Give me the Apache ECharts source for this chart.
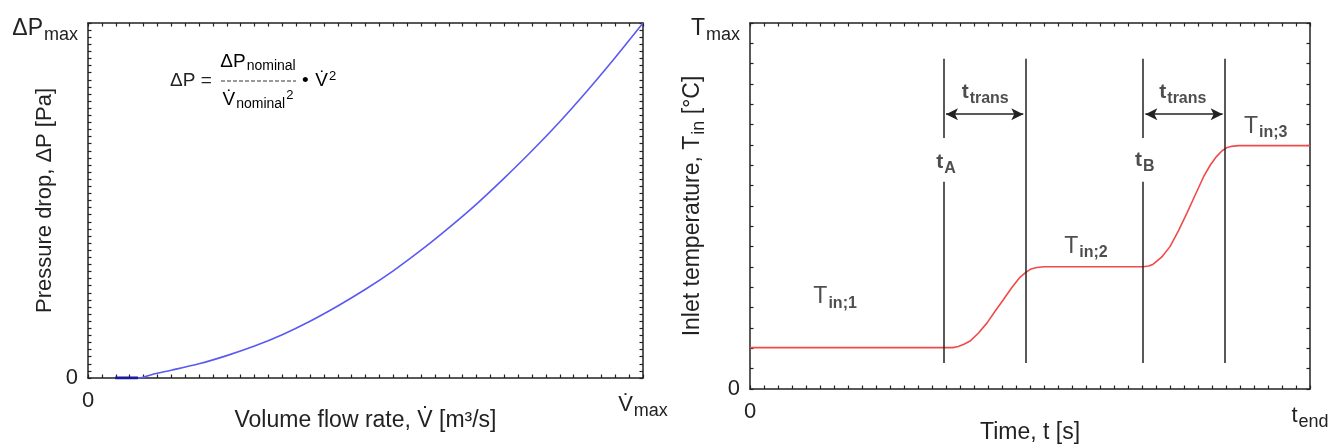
<!DOCTYPE html>
<html>
<head>
<meta charset="utf-8">
<script src="https://cdn.jsdelivr.net/npm/echarts@6/dist/echarts.min.js"></script>
<style>
  html, body { margin: 0; padding: 0; background: #fff; }
  #chart { width: 1338px; height: 446px; }
</style>
</head>
<body>
<div id="chart"></div>
<script>
// left panel: pressure drop vs volume flow rate (fractions of max)
const flowRate = [0.049, 0.09, 0.12, 0.15, 0.20, 0.25, 0.30, 0.35, 0.40, 0.45, 0.50, 0.55, 0.60, 0.65, 0.70, 0.75, 0.80, 0.85, 0.90, 0.95, 1.0]
const pressureDrop = [0, 0, 0.012, 0.022, 0.04, 0.063, 0.09, 0.122, 0.16, 0.203, 0.25, 0.302, 0.36, 0.423, 0.49, 0.563, 0.64, 0.722, 0.81, 0.903, 1.0]

// right panel: inlet temperature vs time (fractions of t_end / T_max)
const timeSteps = [0, 0.346, 0.362, 0.372, 0.383, 0.393, 0.408, 0.423, 0.437, 0.452, 0.467, 0.482, 0.492, 0.502, 0.512, 0.525,
  0.702, 0.712, 0.720, 0.735, 0.750, 0.765, 0.780, 0.795, 0.810, 0.822, 0.833, 0.843, 0.851, 0.860, 0.872, 1.0]
const inletTemp = [0.113, 0.113, 0.113, 0.116, 0.123, 0.131, 0.153, 0.180, 0.211, 0.243, 0.276, 0.305, 0.318, 0.328, 0.332, 0.334,
  0.334, 0.336, 0.341, 0.360, 0.389, 0.432, 0.480, 0.530, 0.580, 0.612, 0.635, 0.651, 0.659, 0.663, 0.665, 0.665]
const switchTimes = [0.346, 0.702] // t_A, t_B
const transTime = 0.146

const FONT = '"Liberation Sans", Arial, sans-serif'
const INK = '#222'

const rich = {
  n: { fontSize: 22, fontFamily: FONT, color: INK },
  N: { fontSize: 23, fontFamily: FONT, color: INK, padding: [12, 0, 0, 0] },
  S: { fontSize: 18, fontFamily: FONT, color: INK, padding: [24, 0, 0, 1] },
  s: { fontSize: 18, fontFamily: FONT, color: INK, padding: [12, 0, 0, 1] },
}

function endLabels(maxText) {
  return (v) => {
    if (Math.abs(v) < 1e-6) return '{n|0}'
    if (Math.abs(v - 1) < 1e-6) return maxText
    return ''
  }
}

function axis(grid, pos, interval, extra) {
  return Object.assign({
    gridIndex: grid,
    type: 'value',
    position: pos,
    min: 0,
    max: 1,
    interval: interval,
    nameMoveOverlap: false,
    axisLine: { show: true, onZero: false, lineStyle: { color: INK, width: 1.5 } },
    axisTick: { show: true, inside: true, length: 3.5, lineStyle: { color: INK, width: 1.2 } },
    splitLine: { show: false },
    axisLabel: { show: false },
  }, extra || {})
}

const vLine = (x, y1, y2) => [{ coord: [x, y1] }, { coord: [x, y2] }]
const lineTop = 0.902, lineBottom = 0.071

const option = {
  animation: false,
  grid: [
    { left: 88, right: 695, top: 23, bottom: 68, outerBoundsMode: 'none', containLabel: false },
    { left: 750, right: 28, top: 23, bottom: 57, outerBoundsMode: 'none', containLabel: false },
  ],
  xAxis: [
    axis(0, 'bottom', 0.025, {
      axisLabel: { show: true, margin: 12, formatter: endLabels('{n|V\u0307}{s|max}'), rich: rich },
      name: 'Volume flow rate, V\u0307 [m³/s]',
      nameLocation: 'middle',
      nameGap: 31,
      nameTextStyle: { fontSize: 23, fontFamily: FONT, color: INK },
    }),
    axis(0, 'top', 0.025),
    axis(1, 'bottom', 0.025, {
      axisLabel: { show: true, margin: 12, formatter: endLabels('{n|t}{s|end}'), rich: rich },
      name: 'Time, t [s]',
      nameLocation: 'middle',
      nameGap: 32,
      nameTextStyle: { fontSize: 23, fontFamily: FONT, color: INK },
    }),
    axis(1, 'top', 0.025),
  ],
  yAxis: [
    axis(0, 'left', 0.02, {
      axisLabel: { show: true, margin: 10, formatter: endLabels('{N|ΔP}{S|max}'), rich: rich },
      name: 'Pressure drop, ΔP [Pa]',
      nameLocation: 'middle',
      nameGap: 32,
      nameTextStyle: { fontSize: 22, fontFamily: FONT, color: INK },
    }),
    axis(0, 'right', 0.02),
    axis(1, 'left', 1 / 18, {
      axisLabel: { show: true, margin: 10, formatter: endLabels('{N|T}{S|max}'), rich: rich },
      name: 'Inlet temperature, T{s|in} [°C]',
      nameLocation: 'middle',
      nameGap: 42,
      nameTextStyle: { fontSize: 23, fontFamily: FONT, color: INK, rich: rich },
    }),
    axis(1, 'right', 1 / 18),
  ],
  graphic: [
    { type: 'text', x: 170, y: 81, style: { text: 'ΔP =', fontSize: 19, fontFamily: FONT, fill: INK, verticalAlign: 'middle' } },
    { type: 'text', x: 258, y: 62, style: {
      text: '{b|ΔP}{s|nominal}', align: 'center', verticalAlign: 'middle',
      rich: { b: { fontSize: 19, fontFamily: FONT, color: INK }, s: { fontSize: 14, fontFamily: FONT, color: INK, padding: [9, 0, 0, 1] } },
    } },
    { type: 'line', shape: { x1: 221, y1: 81, x2: 296, y2: 81 }, style: { stroke: '#333', lineWidth: 1, lineDash: [4, 2] } },
    { type: 'text', x: 258, y: 100, style: {
      text: '{b|V\u0307}{s|nominal}{p|2}', align: 'center', verticalAlign: 'middle',
      rich: {
        b: { fontSize: 19, fontFamily: FONT, color: INK },
        s: { fontSize: 14, fontFamily: FONT, color: INK, padding: [9, 0, 0, 1] },
        p: { fontSize: 13, fontFamily: FONT, color: INK, padding: [0, 0, 10, 1] },
      },
    } },
    { type: 'text', x: 302, y: 81, style: {
      text: '{d|•}  {b|V\u0307}{p|2}', verticalAlign: 'middle',
      rich: {
        d: { fontSize: 19, fontFamily: FONT, color: INK },
        b: { fontSize: 19, fontFamily: FONT, color: INK },
        p: { fontSize: 13, fontFamily: FONT, color: INK, padding: [0, 0, 10, 1] },
      },
    } },
  ],
  series: [
    {
      type: 'line',
      xAxisIndex: 0,
      yAxisIndex: 0,
      data: flowRate.map((v, i) => [v, pressureDrop[i]]),
      showSymbol: false,
      smooth: 0.3,
      lineStyle: { color: '#5a5af2', width: 1.6 },
    },
    {
      // the darker stub where the curve sits on the axis
      type: 'line',
      xAxisIndex: 0,
      yAxisIndex: 0,
      data: flowRate.slice(0, 2).map((v, i) => [v, pressureDrop[i]]),
      showSymbol: false,
      lineStyle: { color: '#1a1a9a', width: 3 },
    },
    {
      type: 'line',
      xAxisIndex: 2,
      yAxisIndex: 2,
      data: timeSteps.map((v, i) => [v, inletTemp[i]]),
      showSymbol: false,
      lineStyle: { color: '#f04a4a', width: 1.6 },
      markLine: {
        silent: true,
        symbol: 'none',
        label: { show: false },
        lineStyle: { color: INK, width: 1.5, type: 'solid' },
        data: [
          vLine(switchTimes[0], lineTop, 0.686),
          vLine(switchTimes[0], 0.566, lineBottom),
          vLine(switchTimes[0] + transTime, lineTop, lineBottom),
          vLine(switchTimes[1], lineTop, 0.686),
          vLine(switchTimes[1], 0.566, lineBottom),
          vLine(switchTimes[1] + transTime, lineTop, lineBottom),
        ],
      },
    },
    {
      type: 'line',
      xAxisIndex: 2,
      yAxisIndex: 2,
      data: [],
      markLine: {
        silent: true,
        symbol: ['arrow', 'arrow'],
        symbolSize: [9, 12],
        label: { show: false },
        lineStyle: { color: INK, width: 1.5, type: 'solid' },
        data: switchTimes.map((t) => [{ coord: [t + 0.004, 0.751] }, { coord: [t + transTime - 0.004, 0.751] }]),
      },
    },
    {
      type: 'scatter',
      xAxisIndex: 2,
      yAxisIndex: 2,
      symbolSize: 0,
      silent: true,
      label: {
        show: true,
        position: 'inside',
        rich: {
          t: { fontSize: 21, fontWeight: 'bold', fontFamily: FONT, color: INK },
          T: { fontSize: 23, fontFamily: FONT, color: INK },
          s: { fontSize: 16, fontWeight: 'bold', fontFamily: FONT, color: INK, padding: [12, 0, 0, 1] },
        },
      },
      data: [
        { value: [0.35, 0.619], label: { formatter: '{t|t}{s|A}' } },
        { value: [0.705, 0.624], label: { formatter: '{t|t}{s|B}' } },
        { value: [0.42, 0.811], label: { formatter: '{t|t}{s|trans}' } },
        { value: [0.773, 0.811], label: { formatter: '{t|t}{s|trans}' } },
        { value: [0.152, 0.251], label: { formatter: '{T|T}{s|in;1}' } },
        { value: [0.60, 0.39], label: { formatter: '{T|T}{s|in;2}' } },
        { value: [0.921, 0.716], label: { formatter: '{T|T}{s|in;3}' } },
      ],
    },
  ],
}

const myChart = echarts.init(document.getElementById('chart'))
myChart.setOption(option)
</script>
</body>
</html>
